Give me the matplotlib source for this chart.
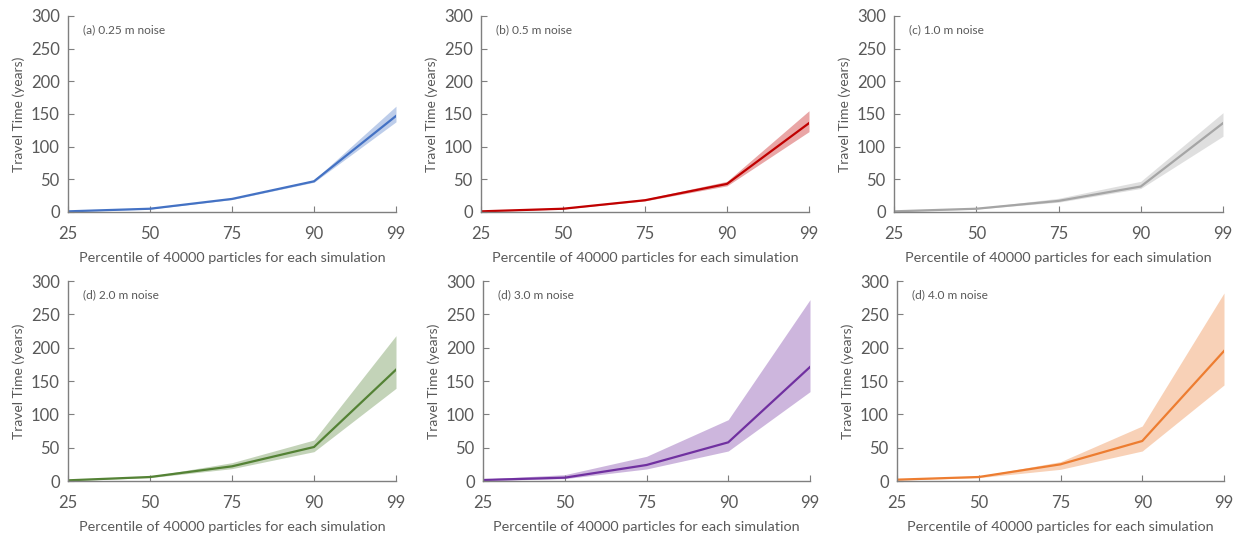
import matplotlib.pyplot as plt

# x categories (equally spaced)
percentiles = ['25', '50', '75', '90', '99']

titles = ['(a) 0.25 m noise', '(b) 0.5 m noise', '(c) 1.0 m noise',
          '(d) 2.0 m noise', '(d) 3.0 m noise', '(d) 4.0 m noise']
colors = ['#4472C4', '#C00000', '#A5A5A5', '#548235', '#7030A0', '#ED7D31']

# median travel time and band (min/max) per noise level
mid_025 = [1, 5, 20, 47, 147]
low_025 = [0.5, 4.5, 19, 45.5, 138]
up_025 = [1.5, 5.5, 21, 49, 162]

mid_05 = [1, 5, 18, 43, 136]
low_05 = [0.5, 4.5, 17, 40, 123]
up_05 = [1.5, 6, 20, 47, 155]

mid_10 = [1, 5, 17, 39, 136]
low_10 = [0.5, 4.5, 15, 36, 116]
up_10 = [1.5, 6, 21, 47, 152]

mid_20 = [1, 6, 22, 51, 167]
low_20 = [0.5, 5, 18.5, 44, 139]
up_20 = [1.5, 7, 27.5, 61.5, 218]

mid_30 = [1.5, 5, 24, 58, 171]
low_30 = [0.5, 3.5, 18, 45, 134]
up_30 = [3, 9.5, 37, 92, 272]

mid_40 = [2, 6, 25, 60, 195]
low_40 = [1.5, 5, 17.5, 45, 144]
up_40 = [2.5, 7, 29, 82.5, 282]

mids = [mid_025, mid_05, mid_10, mid_20, mid_30, mid_40]
lows = [low_025, low_05, low_10, low_20, low_30, low_40]
ups = [up_025, up_05, up_10, up_20, up_30, up_40]

plt.rcParams['font.family'] = ['Lato', 'DejaVu Sans']
txt = '#595959'

fig = plt.figure(figsize=(12.37, 5.35), dpi=100)

# axes boxes in figure pixels: (left, right, top, bottom)
boxes = [(68, 396, 16, 212), (481, 809, 16, 212), (894, 1223, 16, 212),
         (68, 396, 281, 481), (483, 810, 281, 481), (897, 1224, 281, 481)]
W, H = 1237, 535

x = list(range(len(percentiles)))
for i in range(6):
    l, r, t, b = boxes[i]
    ax = fig.add_axes([l / W, 1 - b / H, (r - l) / W, (b - t) / H])
    ax.fill_between(x, lows[i], ups[i], color=colors[i], alpha=0.35, lw=0)
    ax.plot(x, mids[i], color=colors[i], lw=1.6)
    ax.set_xlim(0, 4)
    ax.set_ylim(0, 300)
    ax.set_xticks(x)
    ax.set_xticklabels(percentiles)
    ax.set_yticks(range(0, 301, 50))
    for s in ['top', 'right']:
        ax.spines[s].set_visible(False)
    for s in ['left', 'bottom']:
        ax.spines[s].set_color('#7f7f7f')
        ax.spines[s].set_linewidth(1)
    ax.tick_params(direction='in', length=4, color='#7f7f7f',
                   labelcolor=txt, labelsize=12)
    ax.tick_params(axis='x', pad=10)
    ax.tick_params(axis='y', pad=6)
    ax.set_xlabel('Percentile of 40000 particles for each simulation',
                  color=txt, fontsize=10.4, labelpad=7)
    ax.set_ylabel('Travel Time (years)', color=txt, fontsize=10, labelpad=4)
    ax.text(0.045, 0.96, titles[i], transform=ax.transAxes, color=txt,
            fontsize=8.6, va='top')

fig.savefig('out.png', dpi=100)
